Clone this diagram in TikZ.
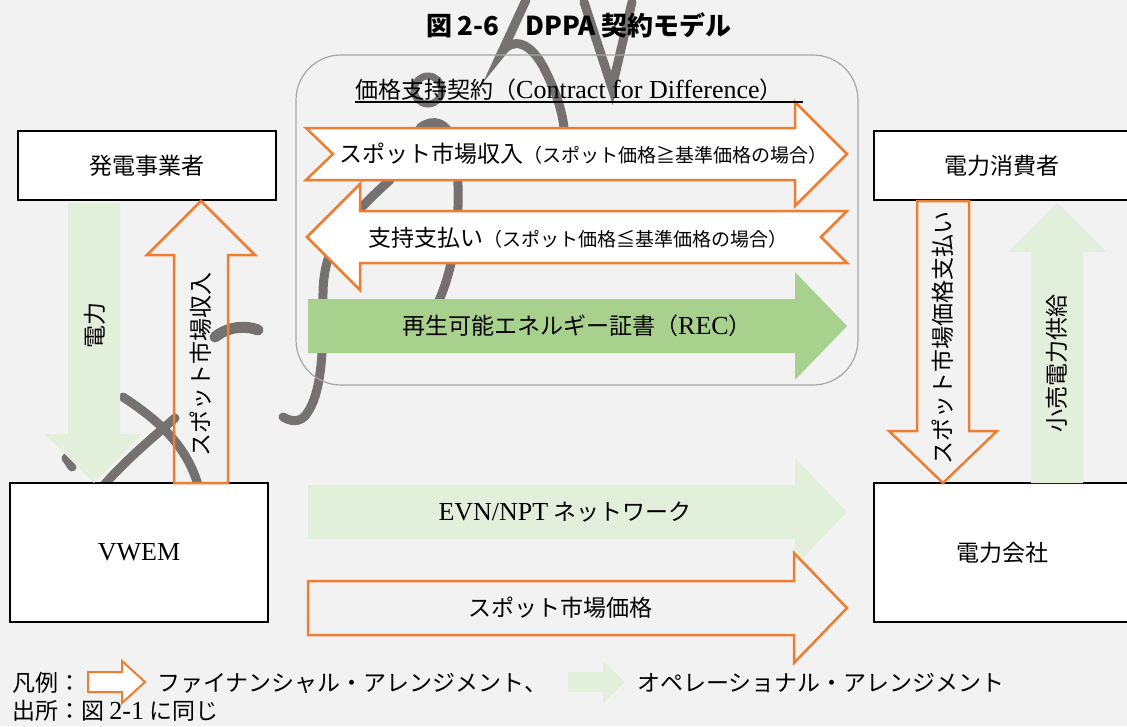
\documentclass[tikz,border=0pt]{standalone}
\usepackage{fontspec}
\usepackage{xcolor}
\usepackage{tikz}
\usetikzlibrary{positioning}

\newfontfamily\jp{Noto Sans CJK JP}
\newfontfamily\lat{Liberation Serif}
\newcommand{\fsz}{\fontsize{23}{25}\selectfont}
\newcommand{\fsm}{\fontsize{19}{21}\selectfont}
\newcommand{\latin}[1]{{\lat\fontsize{26}{28}\selectfont #1}}

\definecolor{finorange}{HTML}{ED7D31}
\definecolor{opgreen}{HTML}{E2EFDA}
\definecolor{recgreen}{HTML}{A9D18E}
\definecolor{bggray}{HTML}{F2F2F2}
\definecolor{framegray}{HTML}{A6A6A6}
\definecolor{scribgray}{HTML}{767171}

\begin{document}
\begin{tikzpicture}[x=1pt, y=-1pt]

\tikzstyle{every node}=[font=\jp\fsz, inner sep=0pt]
\tikzstyle{party}=[draw=black, line width=1.5pt, fill=white, minimum width=258pt]
\tikzstyle{fin}=[draw=finorange, line width=2.5pt, line join=miter]
\tikzstyle{scribble}=[draw=scribgray, line width=9pt, line cap=round]

\useasboundingbox (0,0) rectangle (1127,726);
\fill[bggray] (0,0) rectangle (1127,726);

% scribble %
\draw[scribble, line width=7pt] (428,90) circle[radius=14];
\draw[scribble] (420,128) .. controls (432,118) and (450,120) .. (455,150)
  .. controls (462,200) and (458,260) .. (437,305);
\draw[scribble] (390,180) .. controls (340,225) and (322,250) .. (323,300)
  .. controls (324,370) and (318,400) .. (305,416) .. controls (298,423) and (290,421) .. (283,417);
\draw[scribble] (526,0) -- (502,52) .. controls (512,38) and (530,40) .. (545,70)
  .. controls (556,92) and (562,110) .. (564,128);
\draw[scribble] (584,2) -- (612,88) -- (632,2);
\draw[scribble, line width=11pt] (215,337) .. controls (230,325) and (248,326) .. (258,330);
\draw[scribble] (123,397) .. controls (150,415) and (185,440) .. (198,485);
\draw[scribble] (175,418) .. controls (150,440) and (120,465) .. (100,490);
\draw[scribble] (66,458) -- (72,467);

% frame %
\draw[framegray, line width=1.2pt, rounded corners=45pt] (296,55) rectangle (858,385);

% boxes %
\node[party, minimum height=69pt] (gen) at (147,165.5) {発電事業者};
\node[party, minimum height=69pt, minimum width=256pt] (cons) at (1002,165.5) {電力消費者};
\node[party, minimum height=139pt] (vwem) at (139,552.5) {\latin{VWEM}};
\node[party, minimum height=139pt, minimum width=256pt] (util) at (1002,552.5) {電力会社};

% arrows %
\filldraw[fin, fill=white] (306,128) -- (795,128) -- (795,102) -- (847,154) -- (795,206)
  -- (795,180) -- (306,180) -- (333,154) -- cycle;
\filldraw[fin, fill=white] (307,237) -- (360,184) -- (360,211) -- (847,211) -- (821,237)
  -- (847,263) -- (360,263) -- (360,290) -- cycle;
\fill[recgreen] (308,299) -- (795,299) -- (795,272) -- (847,326) -- (795,380)
  -- (795,353) -- (308,353) -- cycle;
\fill[opgreen] (308,485) -- (795,485) -- (795,458) -- (847,512) -- (795,566)
  -- (795,539) -- (308,539) -- cycle;
\filldraw[fin, fill=bggray] (308,581) -- (794,581) -- (794,553) -- (847,608) -- (794,663)
  -- (794,635) -- (308,635) -- cycle;
\fill[opgreen] (68,203) -- (120,203) -- (120,434) -- (142,434) -- (94,483) -- (45,434)
  -- (68,434) -- cycle;
\draw[fin] (174,483) -- (174,255) -- (147,255) -- (201,201) -- (255,255) -- (228,255)
  -- (228,483) -- cycle;
\draw[fin] (917,201) -- (969,201) -- (969,431) -- (997,431) -- (943,483) -- (889,431)
  -- (917,431) -- cycle;
\fill[opgreen] (1031,483) -- (1031,252) -- (1008,252) -- (1057,203) -- (1106,252)
  -- (1083,252) -- (1083,483) -- cycle;

% labels %
\node (title) at (579,25) {\fontsize{26}{28}\selectfont\bfseries 図 2-6　DPPA 契約モデル};
\node[anchor=base west] (cfd) at (355,98) {価格支持契約（\latin{Contract for Difference}）};
\draw[line width=1.5pt] (355,102) -- (803,102);
\node (spotin) at (583,154) {スポット市場収入{\fsm（スポット価格≧基準価格の場合）}};
\node (supp) at (578,238) {支持支払い{\fsm（スポット価格≦基準価格の場合）}};
\node (rec) at (577,326) {再生可能エネルギー証書（\latin{REC}）};
\node (grid) at (565,512) {\latin{EVN/NPT} ネットワーク};
\node (spotpr) at (560,608) {スポット市場価格};
\node[rotate=90] (power) at (95,325) {電力};
\node[rotate=90] (genin) at (201,364) {スポット市場収入};
\node[rotate=90] (conspay) at (943,338) {スポット市場価格支払い};
\node[rotate=90] (retail) at (1057,363) {小売電力供給};

% legend %
\node[anchor=west] (legend) at (12,683) {凡例：};
\filldraw[fin, line width=2pt, fill=white] (88,672) -- (122,672) -- (122,661) -- (145,682)
  -- (122,703) -- (122,692) -- (88,692) -- cycle;
\node[anchor=west] (legfin) at (157,683) {ファイナンシャル・アレンジメント、};
\fill[opgreen] (568,672) -- (603,672) -- (603,661) -- (625,682) -- (603,703)
  -- (603,692) -- (568,692) -- cycle;
\node[anchor=west] (legop) at (637,683) {オペレーショナル・アレンジメント};
\node[below=6pt of legend.south west, anchor=north west] (source) {出所：図 \latin{2-1} に同じ};

\end{tikzpicture}
\end{document}
